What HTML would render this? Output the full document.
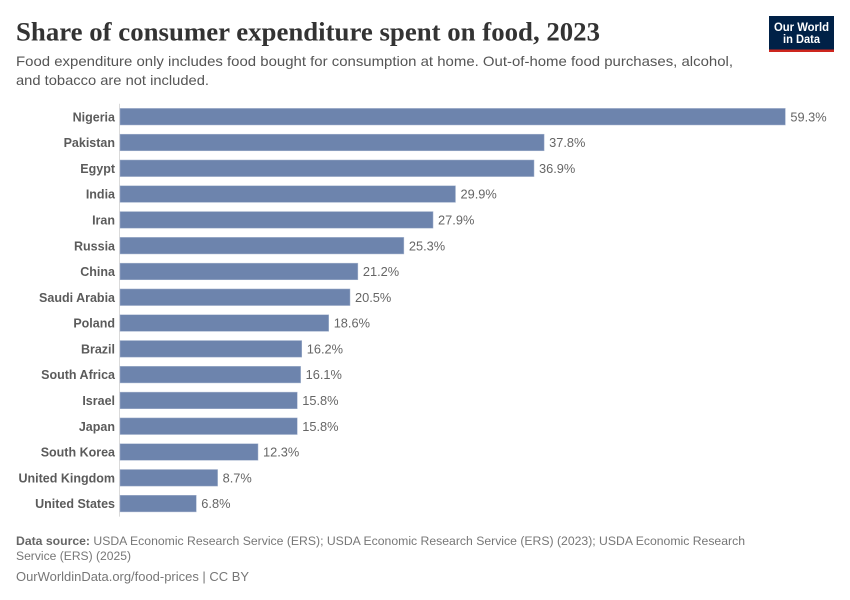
<!DOCTYPE html>
<html lang="en">
<head>
<meta charset="utf-8">
<title>Share of consumer expenditure spent on food, 2023</title>
<style>
html,body{margin:0;padding:0;background:#fff;}
svg{display:block;font-family:"Liberation Sans",sans-serif;}
</style>
</head>
<body>
<svg id="chart" width="850" height="600" viewBox="0 0 850 600" xmlns="http://www.w3.org/2000/svg">
  <rect width="850" height="600" fill="#fff"/>
  <text x="16" y="40.5" font-family="'Liberation Serif',serif" font-weight="700" font-size="26" fill="#333" textLength="584" lengthAdjust="spacingAndGlyphs">Share of consumer expenditure spent on food, 2023</text>
  <text x="16" y="66" font-size="14" fill="#555" textLength="717" lengthAdjust="spacingAndGlyphs">Food expenditure only includes food bought for consumption at home. Out-of-home food purchases, alcohol,</text>
  <text x="16" y="85" font-size="14" fill="#555" textLength="193" lengthAdjust="spacingAndGlyphs">and tobacco are not included.</text>
  <g>
    <rect x="769" y="16" width="65" height="36" fill="#002147"/>
    <rect x="769" y="49.5" width="65" height="2.5" fill="#ce261e"/>
    <text x="801.5" y="31" text-anchor="middle" font-size="11.5" font-weight="700" fill="#fff" textLength="55" lengthAdjust="spacingAndGlyphs">Our World</text>
    <text x="801.5" y="43" text-anchor="middle" font-size="11.5" font-weight="700" fill="#fff" textLength="37" lengthAdjust="spacingAndGlyphs">in Data</text>
  </g>
  <g id="plot"></g>
  <text x="16" y="545" font-size="12.4" fill="#777" textLength="729" lengthAdjust="spacingAndGlyphs"><tspan font-weight="700" fill="#666">Data source:</tspan> USDA Economic Research Service (ERS); USDA Economic Research Service (ERS) (2023); USDA Economic Research</text>
  <text x="16" y="560" font-size="12.4" fill="#777" textLength="115" lengthAdjust="spacingAndGlyphs">Service (ERS) (2025)</text>
  <text x="16" y="581" font-size="12.6" fill="#777" textLength="233" lengthAdjust="spacingAndGlyphs">OurWorldinData.org/food-prices | CC BY</text>
</svg>
<script>
const categories = ["Nigeria","Pakistan","Egypt","India","Iran","Russia","China","Saudi Arabia","Poland","Brazil","South Africa","Israel","Japan","South Korea","United Kingdom","United States"];
const values = [59.3,37.8,36.9,29.9,27.9,25.3,21.2,20.5,18.6,16.2,16.1,15.8,15.8,12.3,8.7,6.8];

const NS = "http://www.w3.org/2000/svg";
const plot = document.getElementById("plot");
const x0 = 120;
const xUnit = 11.22;
const firstCenter = 116.7;
const lastCenter = 503.6;
function xScale(v){ return x0 + v * xUnit; }
function yScale(i){ return firstCenter + i * (lastCenter - firstCenter) / 15; }
const barHeight = 16.6;

const axis = document.createElementNS(NS, "line");


axis.setAttribute("x1", x0 - 0.5);
axis.setAttribute("x2", x0 - 0.5);
axis.setAttribute("y1", yScale(0) - 13);
axis.setAttribute("y2", yScale(categories.length - 1) + 13);
axis.setAttribute("stroke", "#dadada");
axis.setAttribute("stroke-width", "1");
plot.appendChild(axis);

categories.forEach(function(name, i){
  const cy = yScale(i);
  const slug = name.toLowerCase().replace(/\s+/g, "-");

  const label = document.createElementNS(NS, "text");
  
  
  label.setAttribute("x", 115);
  label.setAttribute("y", cy + 4.6);
  label.setAttribute("text-anchor", "end");
  label.setAttribute("font-size", "12.5");
  label.setAttribute("font-weight", "700");
  label.setAttribute("fill", "#5b5b5b");
  label.textContent = name;
  plot.appendChild(label);

  const bar = document.createElementNS(NS, "rect");
  
  
  bar.setAttribute("x", x0);
  bar.setAttribute("y", cy - barHeight / 2);
  bar.setAttribute("width", xScale(values[i]) - x0);
  bar.setAttribute("height", barHeight);
  bar.setAttribute("fill", "#6d84ad");
  bar.setAttribute("stroke", "#a8b6cf");
  bar.setAttribute("stroke-width", "0.5");
  plot.appendChild(bar);

  const val = document.createElementNS(NS, "text");
  
  
  val.setAttribute("x", xScale(values[i]) + 5);
  val.setAttribute("y", cy + 4.6);
  val.setAttribute("font-size", "12.8");
  val.setAttribute("fill", "#666");
  val.textContent = values[i].toFixed(1) + "%";
  plot.appendChild(val);
});
</script>
</body>
</html>
